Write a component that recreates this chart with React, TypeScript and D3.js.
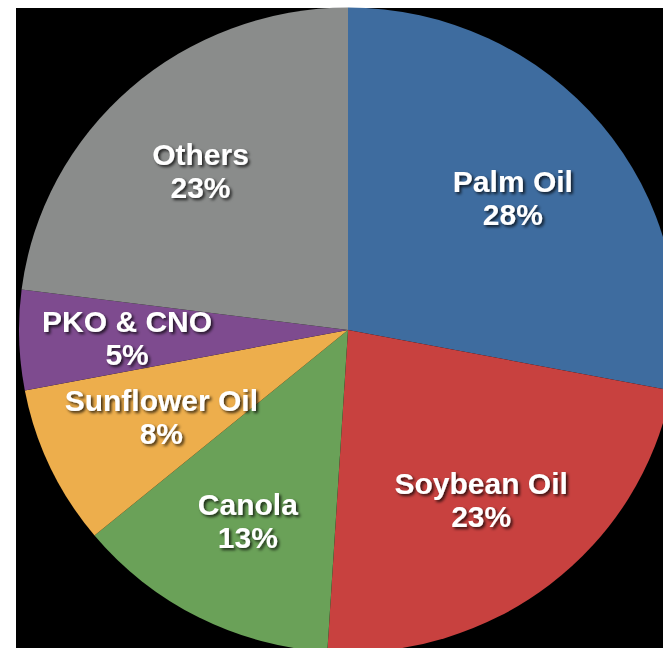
import React from "react";
import * as d3 from "d3";

const categories = ["Palm Oil", "Soybean Oil", "Canola", "Sunflower Oil", "PKO & CNO", "Others"];
const values = [28, 23, 13, 8, 5, 23];
const colors = ["#3E6C9F", "#C8413F", "#6AA158", "#EDAE4C", "#7E4B8F", "#8A8C8B"];
const labelNudges: [number, number][] = [[0, 4], [2, 1], [-3, 0], [7, -4], [-7, 1], [-6, 2]];

const W = 663;
const H = 648;
const CX = 348;
const CY = 330;
const RX = 329;
const RY_SCALE = 0.98;
const LABEL_R = 214;

export default function App() {
  const pie = d3.pie<number>().sort(null).value((d) => d)(values);
  const arc = d3.arc<d3.PieArcDatum<number>>().innerRadius(0).outerRadius(RX);
  const labelArc = d3.arc<d3.PieArcDatum<number>>().innerRadius(LABEL_R).outerRadius(LABEL_R);
  return (
    <svg
      width={W}
      height={H}
      style={{ position: "absolute", left: 0, top: 0, display: "block" }}
    >
      <defs>
        <filter id="ts" x="-20%" y="-40%" width="140%" height="180%">
          <feDropShadow dx="2" dy="2" stdDeviation="1.8" floodColor="#000" floodOpacity="0.75" />
        </filter>
      </defs>
      <rect x={0} y={0} width={W} height={H} fill="#fff" />
      <rect x={16} y={8} width={W - 16} height={H - 8} fill="#000" />
      <g transform={`translate(${CX},${CY}) scale(1,${RY_SCALE})`}>
        {pie.map((p, i) => (
          <path key={i} d={arc(p) || ""} fill={colors[i]} />
        ))}
      </g>
      <g transform={`translate(${CX},${CY})`}>
        {pie.map((p, i) => {
          const [lx, ly] = labelArc.centroid(p);
          const x = lx + labelNudges[i][0];
          const y = ly + labelNudges[i][1];
          return (
            <text
              key={i}
              x={x}
              y={y}
              textAnchor="middle"
              fill="#fff"
              filter="url(#ts)"
              style={{ fontFamily: "'Liberation Sans', Arial, sans-serif", fontWeight: 700, fontSize: 30 }}
            >
              <tspan x={x} y={y - 6}>{categories[i]}</tspan>
              <tspan x={x} y={y + 27}>{`${values[i]}%`}</tspan>
            </text>
          );
        })}
      </g>
    </svg>
  );
}
